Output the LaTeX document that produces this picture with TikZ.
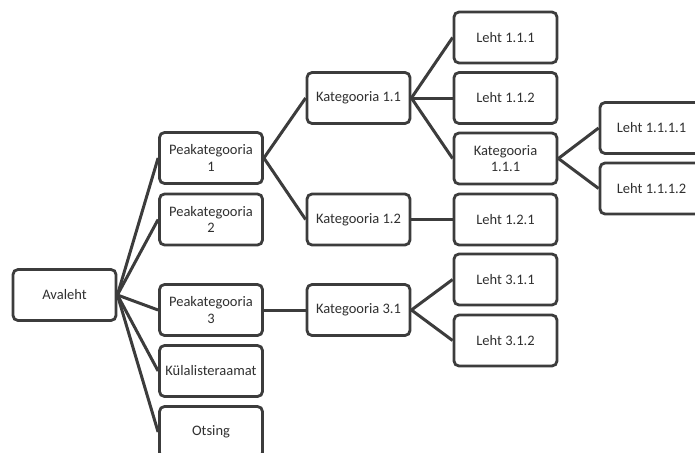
\documentclass[tikz,border=0pt]{standalone}
\usepackage{fontspec}
\setmainfont{Carlito}
\usepackage{xcolor}
\definecolor{linegray}{HTML}{3C3C3C}
\definecolor{textgray}{HTML}{303030}
\begin{document}
\begin{tikzpicture}[x=1pt,y=-1pt]
    \tikzstyle{box}=[draw=linegray,line width=2.8pt,rounded corners=5pt,fill=white,
        minimum width=103pt,minimum height=51pt,align=center,inner sep=1pt,
        text=textgray,font=\fontsize{14.5}{16.5}\selectfont]
    \tikzstyle{edge}=[draw=linegray,line width=3pt,-]
    \useasboundingbox (0,0) rectangle (695,452);
    \clip (0,0) rectangle (695,452);
    % level 0 and 1
    \node[box] (ava) at (64.5,295) {Avaleht};
    \node[box] (pk1) at (211,158) {Peakategooria\\1};
    \node[box] (pk2) at (211,219.5) {Peakategooria\\2};
    \node[box] (pk3) at (211,310) {Peakategooria\\3};
    \node[box] (kyl) at (211,371) {Külalisteraamat};
    \node[box] (ots) at (211,432) {Otsing};
    % level 2
    \node[box] (k11) at (358.5,98) {Kategooria 1.1};
    \node[box] (k12) at (358.5,219.5) {Kategooria 1.2};
    \node[box] (k31) at (358.5,310) {Kategooria 3.1};
    % level 3
    \node[box] (l111) at (505.5,37.5) {Leht 1.1.1};
    \node[box] (l112) at (505.5,98) {Leht 1.1.2};
    \node[box] (k111) at (505.5,158.5) {Kategooria\\1.1.1};
    \node[box] (l121) at (505.5,219.5) {Leht 1.2.1};
    \node[box] (l311) at (505.5,279.5) {Leht 3.1.1};
    \node[box] (l312) at (505.5,340.5) {Leht 3.1.2};
    % level 4
    \node[box] (l1111) at (651.5,128) {Leht 1.1.1.1};
    \node[box] (l1112) at (651.5,188.5) {Leht 1.1.1.2};
    % edges
    \foreach \a/\b in {ava/pk1,ava/pk2,ava/pk3,ava/kyl,ava/ots,
                       pk1/k11,pk1/k12,pk3/k31,
                       k11/l111,k11/l112,k11/k111,k12/l121,
                       k31/l311,k31/l312,
                       k111/l1111,k111/l1112}
        \draw[edge] (\a.east) -- (\b.west);
\end{tikzpicture}
\end{document}
